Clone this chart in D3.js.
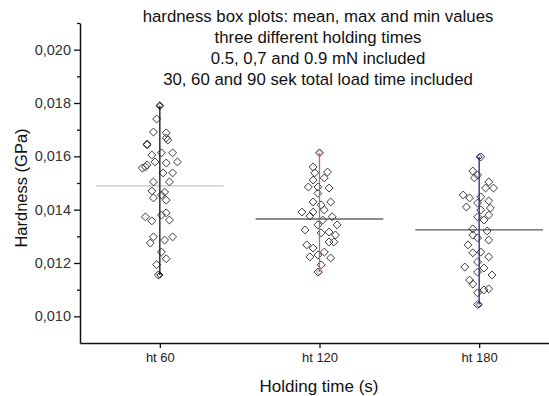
<!DOCTYPE html>
<html>
<head>
<meta charset="utf-8">
<script src="https://cdn.jsdelivr.net/npm/d3@7"></script>
<style>
  body { margin: 0; background: #fff; }
  svg { display: block; font-family: "Liberation Sans", Arial, sans-serif; }
</style>
</head>
<body>
<div id="chart"></div>
<script>
// categories and summary values
var categories = ["ht 60", "ht 120", "ht 180"];
var means = [0.01489, 0.01365, 0.01324];   // GPa

// individual measurements: [jitter (fraction of category step), hardness x 1e-3 GPa]
var ht60 = [
  [0.00,17.90], [-0.02,17.40], [-0.04,16.91], [0.04,16.88], [0.04,16.69], [-0.08,16.43],
  [0.05,16.61], [-0.08,16.46], [0.01,16.13], [-0.05,16.05], [0.08,16.13], [-0.11,15.56],
  [-0.08,15.68], [-0.03,15.79], [0.04,15.75], [0.11,15.79], [-0.09,15.60], [0.02,15.38],
  [0.08,15.38], [-0.04,15.04], [0.06,15.04], [-0.05,14.70], [0.03,14.66], [0.01,14.55],
  [-0.04,14.44], [0.04,14.36], [-0.09,13.73], [-0.05,13.58], [0.01,13.80], [0.04,13.88],
  [0.06,13.61], [-0.04,12.98], [-0.06,12.75], [0.03,12.86], [0.08,12.98], [0.01,12.41],
  [0.04,12.16], [-0.02,11.94], [-0.01,11.55]
];
var ht120 = [
  [0.00,16.13], [-0.04,15.60], [-0.03,15.38], [0.05,15.41], [-0.04,15.11], [0.03,15.19],
  [-0.07,14.85], [-0.01,14.85], [0.06,14.81], [-0.01,14.61], [-0.04,14.29], [0.07,14.29],
  [0.01,14.18], [-0.11,13.91], [-0.04,13.91], [0.03,13.99], [-0.06,13.76], [0.08,13.73],
  [0.02,13.61], [0.11,13.43], [-0.01,13.43], [-0.09,13.24], [0.06,13.16], [0.10,13.05],
  [0.01,13.13], [-0.08,12.68], [-0.04,12.56], [0.06,12.79], [0.09,12.79], [0.03,12.41],
  [0.07,12.19], [-0.06,12.23], [-0.01,12.30], [0.01,11.93], [-0.01,11.66]
];
var ht180 = [
  [0.01,15.98], [-0.04,15.45], [-0.01,15.30], [-0.03,15.19], [0.06,15.04], [0.04,14.81],
  [0.09,14.81], [-0.10,14.55], [-0.06,14.44], [0.01,14.48], [-0.01,14.25], [0.06,14.33],
  [-0.08,14.10], [0.01,13.99], [0.07,14.06], [0.06,13.80], [-0.01,13.73], [0.03,13.61],
  [-0.04,13.28], [0.05,13.20], [-0.04,13.05], [-0.01,12.94], [0.06,12.86], [-0.07,12.68],
  [-0.04,12.38], [0.01,12.41], [0.06,12.23], [-0.01,12.04], [-0.09,11.85], [0.03,11.81],
  [-0.01,11.66], [0.08,11.55], [-0.06,11.36], [-0.04,11.21], [0.03,10.99], [0.06,11.03],
  [-0.01,10.88], [-0.01,10.44]
];
var yTicks = [0.010, 0.012, 0.014, 0.016, 0.018, 0.020];
var titleLines = [
  "hardness box plots: mean, max and min values",
  "three different holding times",
  "0.5, 0,7 and 0.9 mN included",
  "30, 60 and 90 sek total load time included"
];

// style
var width = 549, height = 396;
var mLeft = 80, mRight = 559, mTop = 23, mBottom = 343;
var font = "'Liberation Sans', Arial, sans-serif";
var whiskerColor = ["#111111", "#b86a6a", "#26267a"];
var meanColor = ["#c4c4c4", "#1a1a1a", "#5a5a5a"];
var diamond = d3.symbol().type(d3.symbolDiamond2).size(40);

var series = [ht60, ht120, ht180];

var svg = d3.select("#chart").append("svg")
    .attr("width", width)
    .attr("height", height);

var x = d3.scaleLinear().domain([0.5, 3.5]).range([mLeft, mRight]);
var y = d3.scaleLinear().domain([0.009, 0.021]).range([mBottom, mTop]);

var fmt = function(d) { return d3.format(".3f")(d).replace(".", ","); };

// y axis: major + minor ticks
var yAxis = svg.append("g")
    .attr("transform", "translate(" + mLeft + ",0)")
    .call(d3.axisLeft(y).tickValues(yTicks).tickFormat(fmt).tickSize(6).tickSizeOuter(0));
yAxis.attr("font-family", font).attr("font-size", 14.5);
yAxis.selectAll("text").attr("fill", "#333").attr("x", -9);
svg.append("g")
    .attr("transform", "translate(" + mLeft + ",0)")
    .call(d3.axisLeft(y).tickValues(d3.range(0.011, 0.0215, 0.002)).tickFormat("").tickSize(3).tickSizeOuter(0))
    .select(".domain").remove();

// x axis
var xAxis = svg.append("g")
    .attr("transform", "translate(0," + mBottom + ")")
    .call(d3.axisBottom(x).tickValues([1, 2, 3])
      .tickFormat(function(d) { return categories[d - 1]; })
      .tickSize(5).tickSizeOuter(0));
xAxis.attr("font-family", font).attr("font-size", 13);
xAxis.selectAll("text").attr("fill", "#222").attr("y", 10);

svg.selectAll(".domain").attr("stroke", "#111").attr("stroke-width", 1.5);
svg.selectAll(".tick line").attr("stroke", "#111").attr("stroke-width", 1.3);

// plot contents
var plot = svg.append("g");

series.forEach(function(pts, i) {
  var cx = i + 1;
  var vals = pts.map(function(p) { return p[1] / 1000; });
  var vmax = d3.max(vals), vmin = d3.min(vals);

  // mean line
  plot.append("line")
      .attr("x1", x(cx - 0.4)).attr("x2", x(cx + 0.4))
      .attr("y1", y(means[i])).attr("y2", y(means[i]))
      .attr("stroke", meanColor[i]).attr("stroke-width", 1.2);

  // points
  plot.append("g").selectAll("path")
      .data(pts)
      .enter().append("path")
      .attr("d", diamond)
      .attr("transform", function(p) { return "translate(" + x(cx + p[0]) + "," + y(p[1] / 1000) + ")"; })
      .attr("fill", "none")
      .attr("stroke", "#3a3a3a")
      .attr("stroke-width", 1);

  // max/min whisker
  plot.append("line")
      .attr("x1", x(cx)).attr("x2", x(cx))
      .attr("y1", y(vmax)).attr("y2", y(vmin))
      .attr("stroke", whiskerColor[i]).attr("stroke-width", 1.3);

  plot.append("g").selectAll("path")
      .data([vmax, vmin])
      .enter().append("path")
      .attr("d", d3.symbol().type(d3.symbolDiamond2).size(24))
      .attr("transform", function(v) { return "translate(" + x(cx) + "," + y(v) + ")"; })
      .attr("fill", "none")
      .attr("stroke", whiskerColor[i])
      .attr("stroke-width", 1);
});

// titles
svg.append("g").selectAll("text")
    .data(titleLines)
    .enter().append("text")
    .attr("x", 318)
    .attr("y", function(d, i) { return 22 + i * 21; })
    .attr("text-anchor", "middle")
    .attr("font-size", 16.8)
    .attr("fill", "#111")
    .text(function(d) { return d; });

svg.append("text")
    .attr("x", 319).attr("y", 392)
    .attr("text-anchor", "middle")
    .attr("font-size", 17)
    .attr("fill", "#111")
    .text("Holding time (s)");

svg.append("text")
    .attr("transform", "translate(27,188) rotate(-90)")
    .attr("text-anchor", "middle")
    .attr("font-size", 16.5)
    .attr("fill", "#111")
    .text("Hardness (GPa)");
</script>
</body>
</html>
